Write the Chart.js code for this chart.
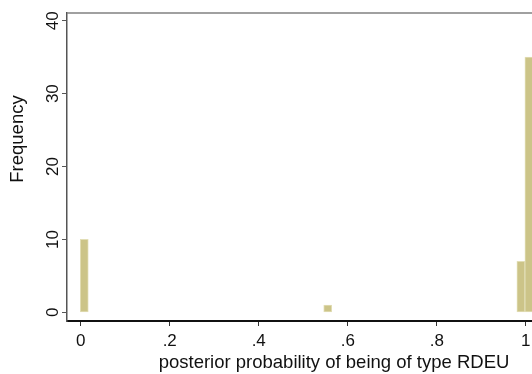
<!DOCTYPE html>
<html>
<head>
<meta charset="utf-8">
<script src="https://cdn.jsdelivr.net/npm/chart.js@4.4.0/dist/chart.umd.min.js"></script>
<style>
  html, body { margin: 0; padding: 0; background: #fff; overflow: hidden; }
  canvas { display: block; }
</style>
</head>
<body>
<canvas id="hist" width="601" height="374"></canvas>
<script>
// histogram bins (centre of each bin) and their counts
const binCenters = [0.008, 0.555, 0.989, 1.007];
const binCounts = [10, 1, 7, 35];
const xTicks = [0, 0.2, 0.4, 0.6, 0.8, 1];
const xTickLabels = ['0', '.2', '.4', '.6', '.8', '1'];
const yTicks = [0, 10, 20, 30, 40];
const xTitle = 'posterior probability of being of type RDEU';
const yTitle = 'Frequency';

const FONT = '"Liberation Sans", Arial, Helvetica, sans-serif';

// gray top edge of plot region + the rotated y title
const framePlugin = {
  id: 'frame',
  afterDraw(chart) {
    const c = chart.ctx, a = chart.chartArea;
    c.save();
    c.strokeStyle = '#808080';
    c.lineWidth = 1.5;
    c.beginPath();
    c.moveTo(a.left, a.top);
    c.lineTo(a.right, a.top);
    c.stroke();
    c.translate(18, 139);
    c.rotate(-Math.PI / 2);
    c.fillStyle = '#111';
    c.font = '18.5px ' + FONT;
    c.textAlign = 'center';
    c.textBaseline = 'middle';
    c.fillText(yTitle, 0, 0);
    c.restore();
  }
};

new Chart(document.getElementById('hist').getContext('2d'), {
  type: 'bar',
  data: {
    datasets: [{
      data: binCenters.map((x, i) => ({ x: x, y: binCounts[i] })),
      backgroundColor: '#ccc488',
      borderColor: '#e2deb6',
      borderWidth: 1,
      borderSkipped: false,
      barPercentage: 1,
      categoryPercentage: 1
    }]
  },
  options: {
    responsive: false,
    animation: false,
    events: [],
    layout: { padding: { top: 13, left: 0, right: 0, bottom: 0 } },
    plugins: { legend: { display: false }, tooltip: { enabled: false } },
    scales: {
      x: {
        type: 'linear',
        offset: false,
        min: -0.0308,
        max: 1.169,
        afterBuildTicks: s => { s.ticks = xTicks.map(v => ({ value: v })); },
        afterFit: s => { s.height = 53; },
        border: { color: '#111', width: 2 },
        grid: { display: true, offset: false, drawOnChartArea: false, drawTicks: true, tickLength: 5, color: '#333' },
        ticks: {
          color: '#111', padding: 5, maxRotation: 0,
          font: { family: FONT, size: 17 },
          callback: (v, i) => xTickLabels[i]
        },
        title: {
          display: true, text: xTitle, color: '#111',
          font: { family: FONT, size: 18.5 },
          padding: { top: 0, bottom: 0 }
        }
      },
      y: {
        min: -1.19,
        max: 41.06,
        afterBuildTicks: s => { s.ticks = yTicks.map(v => ({ value: v })); },
        afterFit: s => { s.width = 67; },
        border: { color: '#555', width: 1.5 },
        grid: { display: true, offset: false, drawOnChartArea: false, drawTicks: true, tickLength: 5, color: '#555' },
        ticks: {
          color: '#111', padding: -1, minRotation: 90, maxRotation: 90, crossAlign: 'center',
          font: { family: FONT, size: 17 }
        }
      }
    }
  },
  plugins: [framePlugin]
});
</script>
</body>
</html>
